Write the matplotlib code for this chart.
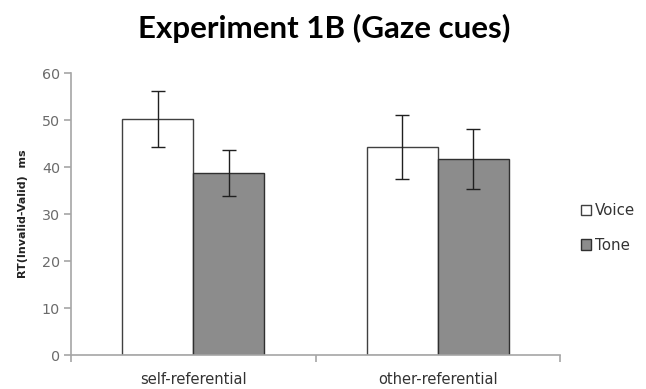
import numpy as np
import matplotlib
matplotlib.use("Agg")
from matplotlib import pyplot as plt

plt.rcParams["font.family"] = ["DejaVu Sans"]

categories = ["self-referential", "other-referential"]
voice = [50.3, 44.3]
voice_err = [6.0, 6.8]
tone = [38.8, 41.8]
tone_err = [4.85, 6.4]

grey_txt = "#6b6b6b"
axis_col = "#a6a6a6"

fig = plt.figure(figsize=(6.46, 3.89), dpi=100)
ax = fig.add_axes([0.110, 0.087, 0.757, 0.725])

x = np.arange(len(categories))
w = 0.29
ax.bar(x - w / 2, voice, w, color="white", edgecolor="#404040", linewidth=1.0,
       yerr=voice_err, capsize=5, error_kw=dict(ecolor="#202020", elinewidth=1.0, capthick=1.0),
       label="Voice")
ax.bar(x + w / 2, tone, w, color="#8c8c8c", edgecolor="#303030", linewidth=1.0,
       yerr=tone_err, capsize=5, error_kw=dict(ecolor="#202020", elinewidth=1.0, capthick=1.0),
       label="Tone")

ax.set_xlim(-0.5, 1.5)
ax.set_ylim(0, 60)
ax.set_yticks(range(0, 61, 10))
ax.set_xticks([-0.5, 0.5, 1.5])
ax.set_xticklabels([])
ax.set_xticks(x, minor=True)
ax.set_xticklabels(categories, minor=True)
ax.tick_params(axis="x", which="minor", length=0, pad=12, labelsize=10.5, colors="#333333")
ax.tick_params(axis="x", which="major", length=5, color=axis_col, width=1.2)
ax.tick_params(axis="y", length=5, color=axis_col, width=1.2, labelsize=10.3, labelcolor=grey_txt, pad=3)

for s in ["top", "right"]:
    ax.spines[s].set_visible(False)
for s in ["left", "bottom"]:
    ax.spines[s].set_color(axis_col)
    ax.spines[s].set_linewidth(1.2)

ax.set_ylabel("RT(Invalid-Valid)  ms", fontsize=8, fontweight="bold", color="#222222", labelpad=10)

fig.text(0.502, 0.927, "Experiment 1B (Gaze cues)", ha="center", va="center",
         fontsize=22.5, fontweight="bold", family="Lato")

leg = ax.legend(loc="center left", bbox_to_anchor=(1.015, 0.45), frameon=False,
                fontsize=10.8, handlelength=0.7, handleheight=0.7, handletextpad=0.25,
                labelspacing=1.3, labelcolor="#333333")

fig.savefig("out.png", dpi=100)
